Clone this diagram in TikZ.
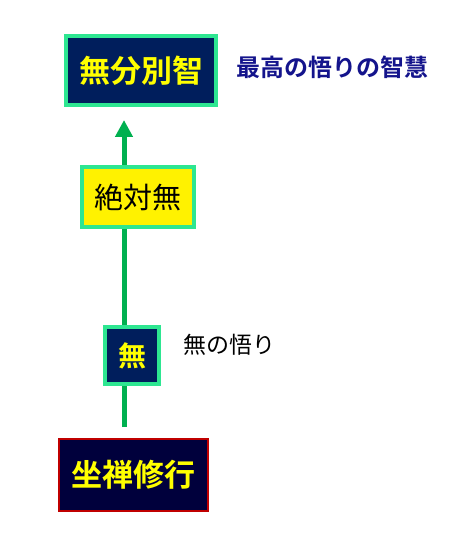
\documentclass[tikz,border=0pt]{standalone}
\usepackage{fontspec}
\setmainfont{Noto Sans CJK JP}[BoldFont={Noto Sans CJK JP Bold}]
\usetikzlibrary{arrows.meta,backgrounds}
\definecolor{navy}{RGB}{0,30,92}
\definecolor{darknavy}{RGB}{0,0,60}
\definecolor{brightgreen}{RGB}{45,230,145}
\definecolor{linegreen}{RGB}{0,176,80}
\definecolor{labelblue}{RGB}{20,20,140}
\definecolor{boxred}{RGB}{192,0,0}
\definecolor{txtyellow}{RGB}{255,255,0}
\begin{document}
\begin{tikzpicture}[x=1pt,y=-1pt,
  greenbox/.style={draw=brightgreen,line width=4pt,inner sep=0pt,anchor=north west},
  redbox/.style={draw=boxred,line width=2pt,inner sep=0pt,anchor=north west},
  connector/.style={draw=linegreen,line width=5pt,-{Triangle[width=17pt,length=17pt]}}]
\useasboundingbox (0,0) rectangle (451,537);
\node[greenbox,fill=navy,minimum width=150pt,minimum height=69pt] (top) at (64,34)
  {\fontsize{31pt}{31pt}\selectfont\bfseries\color{txtyellow}無分別智};
\node[anchor=center,text=labelblue] (toplabel) at (332,67)
  {\fontsize{24pt}{24pt}\selectfont\bfseries 最高の悟りの智慧};
\node[greenbox,fill=yellow,minimum width=112pt,minimum height=60pt] (zettai) at (80,165)
  {\fontsize{29pt}{29pt}\selectfont 絶対無};
\node[greenbox,fill=navy,minimum width=54pt,minimum height=57pt] (mu) at (103,325)
  {\fontsize{28pt}{28pt}\selectfont\bfseries\color{txtyellow}無};
\node[anchor=center] (mulabel) at (229,345)
  {\fontsize{23pt}{23pt}\selectfont 無の悟り};
\node[redbox,fill=darknavy,minimum width=149pt,minimum height=72pt] (zazen) at (58,438)
  {\fontsize{31pt}{31pt}\selectfont\bfseries\color{txtyellow}坐禅修行};
\coordinate (lstart) at (124,427);
\coordinate (lend) at (124,120);
\begin{scope}[on background layer]
\draw[connector] (lstart) -- (lend);
\end{scope}
\end{tikzpicture}
\end{document}
